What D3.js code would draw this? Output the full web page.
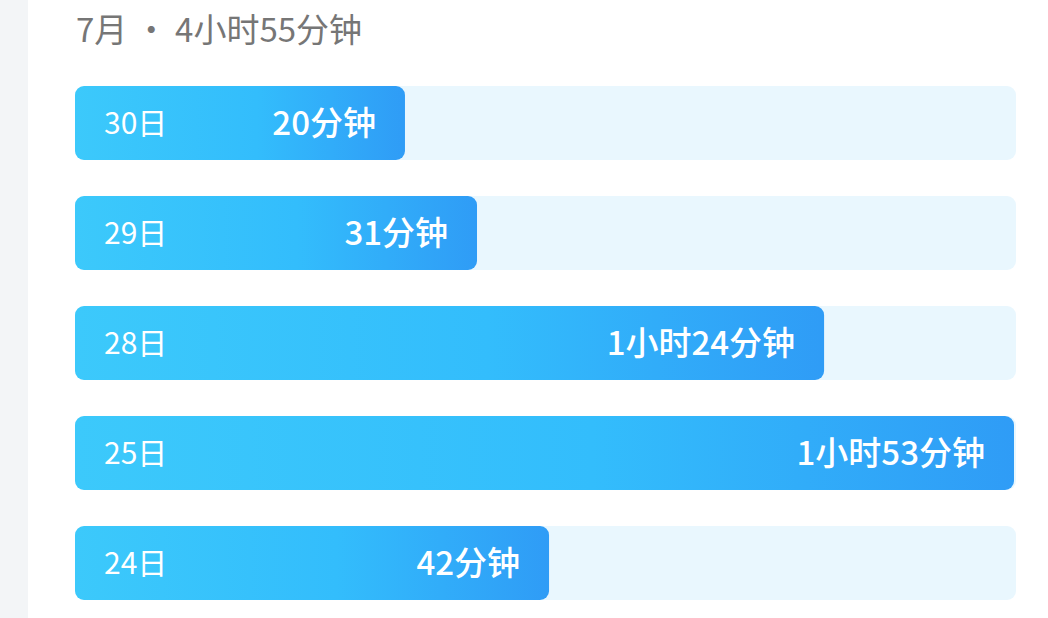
<!DOCTYPE html>
<html><head><meta charset="utf-8">
<script src="https://cdn.jsdelivr.net/npm/d3@7"></script>
<style>
html,body{margin:0;padding:0;background:#fff;}
svg{display:block;}
text{font-family:"Noto Sans CJK SC","Noto Sans",sans-serif;}
</style></head>
<body>
<script>
const title = "7月 · 4小时55分钟";
const days = ["30日","29日","28日","25日","24日"];
const minutes = [20, 31, 84, 113, 42];
const valueLabels = ["20分钟","31分钟","1小时24分钟","1小时53分钟","42分钟"];

const W = 1048, H = 618;
const svg = d3.select("body").append("svg").attr("width", W).attr("height", H);

const defs = svg.append("defs");
const grad = defs.append("linearGradient").attr("id","barGrad")
  .attr("x1","0%").attr("x2","100%").attr("y1","0%").attr("y2","0%");
grad.append("stop").attr("offset","0%").attr("stop-color","#3cc9fb");
grad.append("stop").attr("offset","55%").attr("stop-color","#33bdfc");
grad.append("stop").attr("offset","100%").attr("stop-color","#2f9cf6");

// left strip
svg.append("rect").attr("x",0).attr("y",0).attr("width",28).attr("height",H).attr("fill","#f3f5f7");

svg.append("text").attr("x",76).attr("y",42)
  .attr("font-size",33).attr("font-weight",400).attr("fill","#767676").text(title);

const x0 = 75, trackEnd = 1016;
const bh = 74;
const x = d3.scaleLinear().domain([0, 113]).range([274, 1014]);
const y = d3.scaleBand().domain(days).range([86, 86 + 110*4 + bh]).paddingInner(36/110).paddingOuter(0);
const yPos = d => y(d);

const data = days.map((d,i)=>({day:d, v:minutes[i], label:valueLabels[i]}));

const g = svg.append("g");
g.selectAll("rect.track").data(data).join("rect").attr("class","track")
  .attr("x",x0).attr("y",d=>yPos(d.day)).attr("width",trackEnd-x0).attr("height",y.bandwidth())
  .attr("rx",9).attr("fill","#e9f7fe");

g.selectAll("rect.bar").data(data).join("rect").attr("class","bar")
  .attr("x",x0).attr("y",d=>yPos(d.day)).attr("width",d=>x(d.v)-x0).attr("height",y.bandwidth())
  .attr("rx",9).attr("fill","url(#barGrad)");

g.selectAll("text.day").data(data).join("text").attr("class","day")
  .attr("x",104).attr("y",d=>yPos(d.day)+y.bandwidth()/2).attr("dy","0.36em")
  .attr("font-size",30).attr("fill","#ffffff").text(d=>d.day);

g.selectAll("text.val").data(data).join("text").attr("class","val")
  .attr("x",d=>x(d.v)-29).attr("y",d=>yPos(d.day)+y.bandwidth()/2).attr("dy","0.36em")
  .attr("text-anchor","end").attr("font-size",33).attr("font-weight",500)
  .attr("fill","#ffffff").text(d=>d.label);
</script>
</body></html>
